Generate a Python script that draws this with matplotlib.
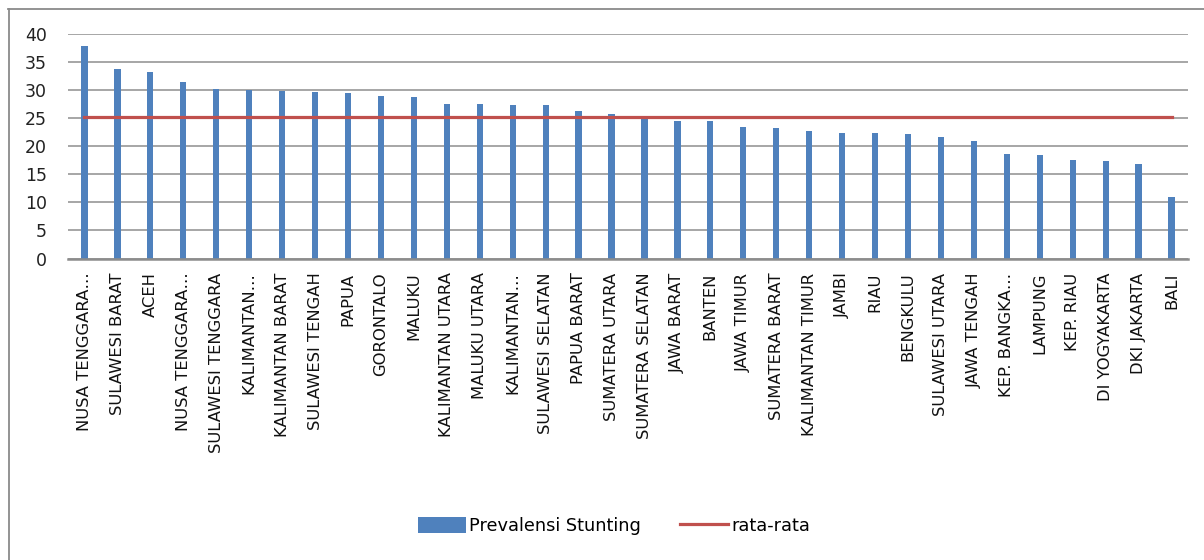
import matplotlib
matplotlib.use("Agg")
import matplotlib.pyplot as plt
from matplotlib.lines import Line2D
from matplotlib.patches import Patch

# Provinces ordered by stunting prevalence (%)
provinsi = [
    "NUSA TENGGARA…", "SULAWESI BARAT", "ACEH", "NUSA TENGGARA…",
    "SULAWESI TENGGARA", "KALIMANTAN…", "KALIMANTAN BARAT", "SULAWESI TENGAH",
    "PAPUA", "GORONTALO", "MALUKU", "KALIMANTAN UTARA", "MALUKU UTARA",
    "KALIMANTAN…", "SULAWESI SELATAN", "PAPUA BARAT", "SUMATERA UTARA",
    "SUMATERA SELATAN", "JAWA BARAT", "BANTEN", "JAWA TIMUR", "SUMATERA BARAT",
    "KALIMANTAN TIMUR", "JAMBI", "RIAU", "BENGKULU", "SULAWESI UTARA",
    "JAWA TENGAH", "KEP. BANGKA…", "LAMPUNG", "KEP. RIAU", "DI YOGYAKARTA",
    "DKI JAKARTA", "BALI",
]
prevalensi = [
    37.8, 33.8, 33.2, 31.4, 30.2, 30.0, 29.8, 29.7, 29.5, 29.0, 28.7, 27.5,
    27.5, 27.4, 27.4, 26.2, 25.8, 24.8, 24.5, 24.5, 23.5, 23.3, 22.8, 22.4,
    22.3, 22.1, 21.6, 20.9, 18.6, 18.5, 17.6, 17.3, 16.8, 10.9,
]
rata_rata = [25.2] * len(provinsi)
y_ticks = [0, 5, 10, 15, 20, 25, 30, 35, 40]

plt.rcParams["font.family"] = ["DejaVu Sans"]

W, H = 1204, 560
fig = plt.figure(figsize=(W / 100, H / 100), dpi=100)
ax = fig.add_axes([68 / W, 1 - 258.5 / H, 1120 / W, 224.5 / H])

bar_color = "#4F81BD"
line_color = "#C0504D"
x = list(range(len(provinsi)))

ax.bar(x, prevalensi, width=0.19, color=bar_color, zorder=2)
ax.plot(x, rata_rata, color=line_color, linewidth=2.3, zorder=3)

ax.set_xlim(-0.5, len(provinsi) - 0.5)
ax.set_ylim(0, 40)
ax.set_yticks(y_ticks)
ax.set_yticklabels([str(v) for v in y_ticks], fontsize=12.5, color="#222222")
ax.yaxis.grid(True, color="#A6A6A6", linewidth=1.4, zorder=0)
ax.set_axisbelow(True)

ax.set_xticks(x)
ax.set_xticklabels(provinsi, rotation=90, fontsize=11.8, color="#111111",
                   ha="center", va="top")
ax.tick_params(axis="both", length=0)
ax.tick_params(axis="x", pad=10)
ax.tick_params(axis="y", pad=15)

for side in ("top", "right", "left"):
    ax.spines[side].set_visible(False)
ax.spines["bottom"].set_color("#8C8C8C")
ax.spines["bottom"].set_linewidth(1.8)
ax.spines["bottom"].set_zorder(4)

handles = [
    Patch(facecolor=bar_color, edgecolor="none", label="Prevalensi Stunting"),
    Line2D([0], [0], color=line_color, linewidth=2.3, label="rata-rata"),
]
fig.legend(handles=handles, loc="center", bbox_to_anchor=(614 / W, 1 - 526 / H),
           ncol=2, frameon=False, fontsize=12.8, handlelength=2.7,
           handleheight=1.0, handletextpad=0.2, columnspacing=2.2)

# chart border
fig.add_artist(Line2D([8.5 / W, 8.5 / W], [0, 1 - 9 / H], transform=fig.transFigure,
                      color="#8A8A8A", linewidth=1.3))
fig.add_artist(Line2D([8 / W, 1], [1 - 9 / H, 1 - 9 / H], transform=fig.transFigure,
                      color="#8A8A8A", linewidth=1.3))

fig.savefig("out.png", dpi=100, facecolor="white")
